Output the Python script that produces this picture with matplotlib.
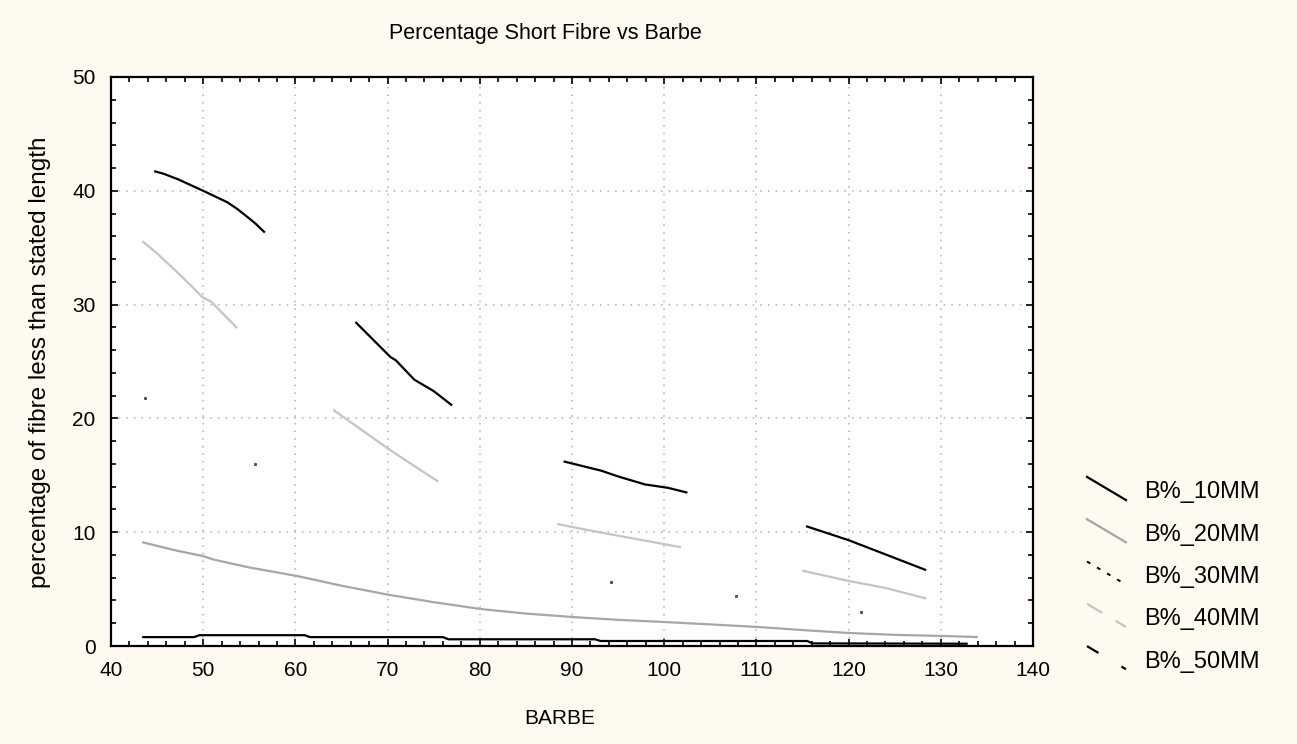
#!/usr/bin/env python3
"""
Percentage Short Fibre vs Barbe
Re-drawn line chart, saved as out.png
"""

import matplotlib
matplotlib.use('Agg')
import matplotlib.pyplot as plt
from matplotlib.lines import Line2D
from matplotlib.legend_handler import HandlerBase
from matplotlib.ticker import MultipleLocator

# ── Data ───────────────────────────────────────────────────
# B%_10MM : four black segments
B10_X = [
    [44.8, 45.7, 47.3, 50.0, 52.6, 53.7, 54.8, 55.7, 56.6],
    [66.6, 70.3, 70.9, 72.9, 75.0, 76.9],
    [89.2, 93.2, 95.0, 97.9, 100.4, 102.4],
    [115.5, 120.0, 123.2, 128.3],
]
B10_Y = [
    [41.7, 41.5, 41.0, 40.0, 39.0, 38.4, 37.7, 37.1, 36.4],
    [28.4, 25.4, 25.1, 23.4, 22.4, 21.2],
    [16.2, 15.4, 14.9, 14.2, 13.9, 13.5],
    [10.5, 9.3, 8.3, 6.7],
]

# B%_20MM : long grey curve
B20_X = [43.5, 45.0, 47.0, 50.0, 51.1, 55.0, 60.2, 65.0, 70.1, 75.0,
         80.1, 85.0, 90.0, 95.0, 100.2, 105.0, 110.2, 115.0, 120.1,
         125.0, 130.3, 133.9]
B20_Y = [9.1, 8.8, 8.4, 7.9, 7.6, 6.9, 6.15, 5.3, 4.5, 3.85,
         3.25, 2.85, 2.55, 2.3, 2.1, 1.9, 1.67, 1.4, 1.14,
         0.98, 0.88, 0.79]

# B%_30MM : only a few stray dots visible
B30_X = [43.7, 55.6, 94.2, 107.8, 121.3]
B30_Y = [21.8, 16.0, 5.6, 4.4, 3.0]

# B%_40MM : four light grey segments
B40_X = [
    [43.5, 45.0, 47.5, 50.0, 50.8, 53.6],
    [64.2, 70.3, 75.4],
    [88.5, 93.2, 101.7],
    [115.1, 120.1, 124.0, 128.3],
]
B40_Y = [
    [35.5, 34.5, 32.6, 30.6, 30.3, 28.0],
    [20.7, 17.2, 14.5],
    [10.7, 9.96, 8.7],
    [6.6, 5.7, 5.1, 4.2],
]

# B%_50MM : flat black line along the bottom
B50_X = [43.5, 49.0, 49.6, 61.0, 61.6, 76.0, 76.6, 92.5, 93.1,
         115.5, 116.1, 132.8]
B50_Y = [0.78, 0.78, 0.95, 0.95, 0.78, 0.78, 0.59, 0.59, 0.44,
         0.44, 0.23, 0.20]

LEGEND_LABELS = ['B%_10MM', 'B%_20MM', 'B%_30MM', 'B%_40MM', 'B%_50MM']

# ── Style ──────────────────────────────────────────────────
BG        = '#FFFAF0'
GREY_MID  = '#A6A6A6'
GREY_LITE = '#C4C4C4'
FONT      = ['Liberation Sans', 'DejaVu Sans']

plt.rcParams['font.family'] = FONT


class SlantHandler(HandlerBase):
    """Legend key drawn as a short falling diagonal."""
    def create_artists(self, legend, orig_handle, xdescent, ydescent,
                       width, height, fontsize, trans):
        x0, y0 = -xdescent, -ydescent
        line = Line2D([x0, x0 + width],
                      [y0 + height * 1.3, y0 - height * 0.1])
        line.update_from(orig_handle)
        line.set_transform(trans)
        return [line]


fig = plt.figure(figsize=(12.97, 7.44), dpi=100, facecolor=BG)
ax = fig.add_axes([111 / 1297, 1 - 646 / 744, 922 / 1297, 569 / 744])
ax.set_facecolor('white')

for xs, ys in zip(B10_X, B10_Y):
    ax.plot(xs, ys, color='black', lw=1.6)
for xs, ys in zip(B40_X, B40_Y):
    ax.plot(xs, ys, color=GREY_LITE, lw=1.6)
ax.plot(B20_X, B20_Y, color=GREY_MID, lw=1.6)
ax.plot(B50_X, B50_Y, color='black', lw=1.6)
ax.plot(B30_X, B30_Y, ls='none', marker='s', ms=1.2, color='#555555')

ax.set_xlim(40, 140)
ax.set_ylim(0, 50)
ax.xaxis.set_major_locator(MultipleLocator(10))
ax.xaxis.set_minor_locator(MultipleLocator(2))
ax.yaxis.set_major_locator(MultipleLocator(10))
ax.yaxis.set_minor_locator(MultipleLocator(2))
ax.tick_params(which='both', direction='in', top=True, right=True,
               labelsize=15, pad=11, width=1.2, colors='black')
ax.tick_params(which='major', length=5)
ax.tick_params(which='minor', length=3.5)
ax.grid(which='major', color='#B0B0B0', lw=1.1, ls=(0, (1, 4)))
for sp in ax.spines.values():
    sp.set_linewidth(1.6)

# Titles / labels
fig.text(545 / 1297, 1 - 33 / 744, 'Percentage Short Fibre vs Barbe',
         ha='center', va='center', fontsize=15.5)
fig.text(560 / 1297, 1 - 718 / 744, 'BARBE',
         ha='center', va='center', fontsize=15)
fig.text(40 / 1297, 1 - 362 / 744,
         'percentage of fibre less than stated length',
         ha='center', va='center', rotation=90, fontsize=17.5)

# Legend with proxy keys
handles = [
    Line2D([], [], color='black', lw=1.6),
    Line2D([], [], color=GREY_MID, lw=1.6),
    Line2D([], [], color='black', lw=1.4, ls=(0, (2, 4))),
    Line2D([], [], color=GREY_LITE, lw=1.6, ls=(0, (8, 7))),
    Line2D([], [], color='black', lw=1.6, ls=(0, (6, 12))),
]
fig.legend(handles, LEGEND_LABELS,
           handler_map={Line2D: SlantHandler()},
           loc='center left', bbox_to_anchor=(1087 / 1297, 1 - 577 / 744),
           frameon=False, fontsize=17, handlelength=1.65,
           handletextpad=0.75, labelspacing=0.86, borderpad=0,
           borderaxespad=0)

plt.savefig('out.png', dpi=100, facecolor=BG)
plt.close()
print('Saved: out.png')
